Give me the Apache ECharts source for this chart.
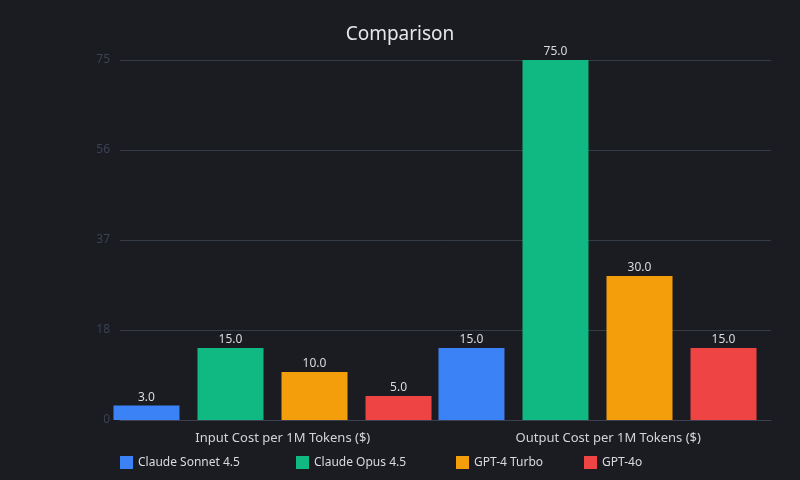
<!DOCTYPE html>
<html>
<head>
<meta charset="utf-8">
<script src="https://cdn.jsdelivr.net/npm/echarts@6/dist/echarts.min.js"></script>
<style>
	html, body { margin: 0; padding: 0; background: #1b1c21; }
	#chart { width: 800px; height: 480px; }
</style>
</head>
<body>
<div id="chart"></div>
<script>
	var categories = ['Input Cost per 1M Tokens ($)', 'Output Cost per 1M Tokens ($)'];
	var seriesNames = ['Claude Sonnet 4.5', 'Claude Opus 4.5', 'GPT-4 Turbo', 'GPT-4o'];
	var sonnet = [3, 15];
	var opus = [15, 75];
	var turbo = [10, 30];
	var gpt4o = [5, 15];
	var colors = ['#3b82f6', '#10b981', '#f59e0b', '#ef4444'];
	var legendLeft = [120, 296, 456, 584];

	var font = '"Noto Sans", "Open Sans", sans-serif';
	var values = [sonnet, opus, turbo, gpt4o];

	var myChart = echarts.init(document.getElementById('chart'));

	var series = seriesNames.map(function(name, i) {
		return {
			name: name,
			type: 'bar',
			xAxisIndex: 1,
			yAxisIndex: 1,
			barWidth: 66,
			barGap: '27.3%',
			itemStyle: { color: colors[i] },
			label: {
				show: true,
				position: 'top',
				distance: 2,
				color: '#d8dbe0',
				fontSize: 12,
				fontFamily: font,
				formatter: function(p) {
					return p.value.toFixed(1);
				}
			},
			data: values[i]
		};
	});

	// one legend per item so the uneven spacing can be kept
	var legends = seriesNames.map(function(name, i) {
		return {
			data: [name],
			left: legendLeft[i],
			top: 456,
			padding: 0,
			icon: 'rect',
			itemWidth: 13,
			itemHeight: 13,
			textStyle: { color: '#d8dbe0', fontSize: 12, fontFamily: font }
		};
	});

	var options = {
		backgroundColor: '#1b1c21',
		title: {
			text: 'Comparison',
			left: 'center',
			top: 20,
			textStyle: { color: '#e6e7ea', fontSize: 19, fontWeight: 'normal', fontFamily: font }
		},
		legend: legends,
		grid: [{
			left: 120,
			width: 651,
			top: 60,
			bottom: 60
		}, {
			left: 110,
			width: 650,
			top: 60,
			bottom: 60
		}],
		xAxis: [{
			type: 'category',
			gridIndex: 0,
			data: categories,
			axisTick: { show: false },
			axisLine: { show: true, lineStyle: { color: '#3a404e' } },
			axisLabel: { color: '#d1d4d9', fontSize: 13, fontFamily: font, margin: 12 }
		}, {
			type: 'category',
			gridIndex: 1,
			data: categories,
			show: false
		}],
		yAxis: [{
			type: 'value',
			gridIndex: 0,
			min: 0,
			max: 75,
			interval: 18.75,
			axisLine: { show: false },
			axisTick: { show: false },
			axisLabel: {
				color: '#3a4152',
				fontSize: 12,
				fontFamily: font,
				margin: 10,
				padding: [0, 0, -4, 0],
				formatter: function(v) {
					return Math.floor(v);
				}
			},
			splitLine: { lineStyle: { color: '#363b48' } }
		}, {
			type: 'value',
			gridIndex: 1,
			min: 0,
			max: 75,
			show: false
		}],
		series: series
	};
	myChart.setOption(options);
</script>
</body>
</html>
